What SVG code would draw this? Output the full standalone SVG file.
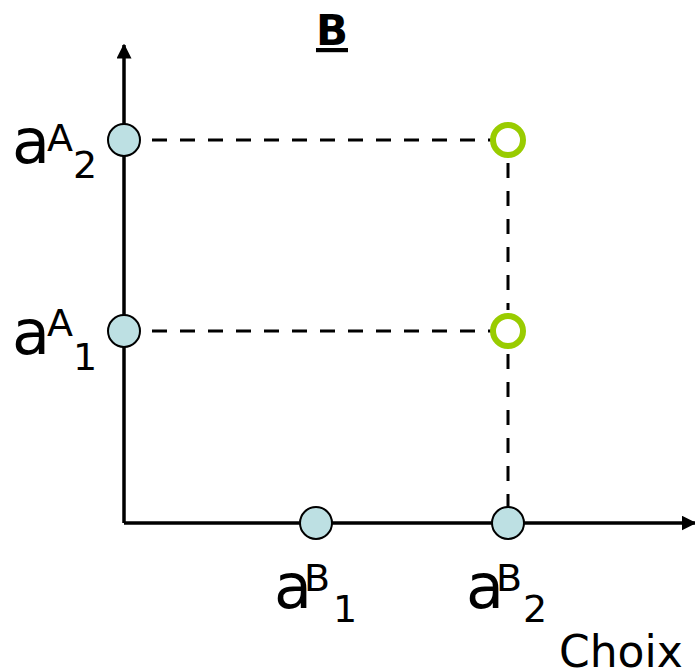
<svg xmlns="http://www.w3.org/2000/svg" width="695" height="672" viewBox="0 0 695 672">
<style>
.t{font-family:"DejaVu Sans","Liberation Sans",sans-serif;fill:#000}
.big{font-size:62px}
.sm{font-size:38px}
.axis{stroke:#000;stroke-width:3.5;fill:none}
.dash{stroke:#000;stroke-width:3;stroke-dasharray:15 13;fill:none}
.pt{fill:#BDE0E3;stroke:#000;stroke-width:2}
.ring{fill:#fff;stroke:#99CC00;stroke-width:6}
</style>
<defs>
<marker id="arr" viewBox="0 0 10 10" refX="9" refY="5" markerWidth="15" markerHeight="15" markerUnits="userSpaceOnUse" orient="auto">
<path d="M0,0 L10,5 L0,10 Z" fill="#000"/>
</marker>
</defs>
<g id="connectors">
<line class="axis" x1="124" y1="523" x2="124" y2="45" marker-end="url(#arr)"/>
<line class="axis" x1="124" y1="523" x2="695" y2="523" marker-end="url(#arr)"/>
<line class="dash" x1="152" y1="140" x2="492" y2="140"/>
<line class="dash" x1="152" y1="331" x2="492" y2="331"/>
<line class="dash" x1="508" y1="163" x2="508" y2="310"/>
<line class="dash" x1="508" y1="354" x2="508" y2="507"/>
</g>
<g id="title"><text class="t" x="332" y="45" font-size="42" font-weight="bold" text-anchor="middle" text-decoration="underline">B</text></g>
<g id="aA2">
<circle class="pt" cx="124" cy="140" r="16"/>
<text class="t big" x="12" y="163">a</text><text class="t sm" x="47" y="151">A</text><text class="t sm" x="73" y="178">2</text>
</g>
<g id="aA1">
<circle class="pt" cx="124" cy="331" r="16"/>
<text class="t big" x="12" y="354">a</text><text class="t sm" x="47" y="336">A</text><text class="t sm" x="73" y="370">1</text>
</g>
<g id="aB1">
<circle class="pt" cx="316" cy="523" r="16"/>
<text class="t big" x="274" y="608">a</text><text class="t sm" x="304" y="591">B</text><text class="t sm" x="333" y="622">1</text>
</g>
<g id="aB2">
<circle class="pt" cx="508" cy="523" r="16"/>
<text class="t big" x="466" y="608">a</text><text class="t sm" x="496" y="591">B</text><text class="t sm" x="523" y="622">2</text>
</g>
<g id="r2"><circle class="ring" cx="508" cy="140" r="15"/></g>
<g id="r1"><circle class="ring" cx="508" cy="331" r="15"/></g>
<g id="choix"><text class="t" x="559" y="667" font-size="44">Choix</text></g>
</svg>
